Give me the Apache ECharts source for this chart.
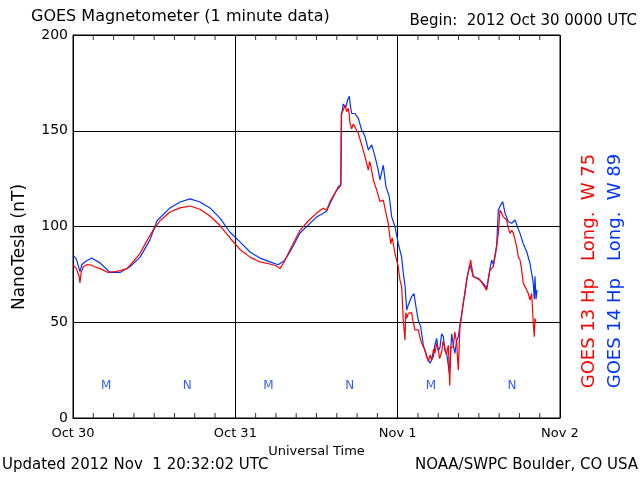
<!DOCTYPE html>
<html>
<head>
<meta charset="utf-8">
<script src="https://cdn.jsdelivr.net/npm/echarts@6/dist/echarts.min.js"></script>
<style>html,body{margin:0;padding:0;background:#fff}#c{width:640px;height:480px}</style>
</head>
<body>
<div id="c"></div>
<script>
// Hours since 2012 Oct 30 00:00 UTC
const xTickLabels = ['Oct 30', 'Oct 31', 'Nov 1', 'Nov 2'];
const yTicks = [0, 50, 100, 150, 200];
const minorTickHours = [3,6,9,12,15,18,21,27,30,33,36,39,42,45,51,54,57,60,63,66,69];

// GOES 13 Hp (red)
const g13Hours = [0,0.5,0.9,1.03,1.2,1.52,2.0,2.51,3.2,3.99,5.17,6.21,7.0,7.98,9.0,9.91,11.0,11.83,12.86,14.34,15.82,17.30,18.78,20.25,21.73,23.21,24.69,26.17,27.64,29.12,30.0,30.60,31.3,32.08,33.56,34.8,36.03,37.0,37.5,38.0,38.99,39.47,39.60,39.67,39.96,40.21,40.45,40.70,40.85,40.95,41.20,41.40,41.69,42.18,42.68,43.17,43.66,43.85,44.01,44.40,44.90,45.39,45.87,46.27,46.61,46.97,47.2,47.60,48.09,48.34,48.59,48.83,49.08,49.20,49.33,49.57,50.07,50.3,50.56,51.05,51.3,51.55,52.04,52.53,52.8,53.03,53.3,53.52,53.75,54.01,54.2,54.51,54.7,55.0,55.2,55.49,55.70,55.85,56.22,56.45,56.73,56.96,57.21,57.45,57.70,58.20,58.59,58.79,59.18,59.68,60.17,60.66,61.16,61.40,61.65,62.14,62.39,62.64,62.88,63.13,63.38,63.62,63.87,64.12,64.36,64.61,64.86,65.09,65.35,65.60,65.84,66.09,66.33,66.57,66.83,67.08,67.31,67.56,67.81,68.05,68.20,68.30,68.45];
const g13Values = [80,78,74,70.5,76,79,80,80,79,78,76,76.5,77,78,82,86,93,98,103,107.6,109.7,110.7,109,105.5,100.5,94,88,84,81.5,80.4,79.5,78,82,87.7,98,103,107,109.5,108.5,113,119,120.8,122,159,160.8,163.5,160,161.7,158,154,151,153.5,152,148.7,142.6,136.5,129.5,134,132,124.3,119,113,113.8,107,101.7,91,94,86,79,72,68.6,51,40.7,55,52,54.7,55,50,46,46,42,39,35.5,29.4,33,30.3,36,33.8,39,35.5,31,34.6,40,36.4,33,38,17,37,37,45,39,25,47.7,53,60,72,79,82.5,73.8,73,72,69.5,66.8,72,77.3,79,84,89.5,96.4,108.6,107,105,105,103.4,99,96.4,98,96.6,93,89.5,84,82.5,77.3,70.3,68.6,66.8,65,61.6,65,49.5,42.5,52,49.5];

// GOES 14 Hp (blue)
const g14Hours = [0,0.5,0.9,1.03,1.3,1.77,2.76,3.99,5.47,6.95,8.43,9.91,11.38,12.42,14.34,15.82,17.30,18.78,20.25,21.73,23.21,24.69,26.17,27.64,29.12,30.31,31.2,32.08,33.56,36.03,37.5,38.0,39.22,39.60,39.70,39.96,40.3,40.6,40.85,41.05,41.20,41.69,41.9,42.18,42.68,43.17,43.66,44.16,44.65,45.1,45.39,45.87,46.27,46.76,47.12,47.60,48.09,48.59,48.83,49.1,49.33,49.57,50.07,50.41,50.71,51.05,51.40,51.79,52.29,52.78,53.27,53.5,53.77,54.01,54.26,54.5,54.75,55.0,55.25,55.64,55.99,56.22,56.47,56.7,56.96,57.32,57.70,57.95,58.29,58.69,59.18,59.92,60.66,61.16,61.65,61.90,62.14,62.64,62.88,63.23,63.53,63.87,64.36,64.86,65.35,65.69,66.09,66.57,67.08,67.56,67.81,68.05,68.2,68.30,68.45,68.60];
const g14Values = [85,83,78,76.4,80,81.6,83.5,81,76,76,79,84,93,103,109.7,112.8,114.4,112.8,109.7,104.4,97,92,86.7,83.5,81.5,80,82,86.7,96.6,105,108,112,120.8,122,158,164,162,166,168,162,159,159,160,156.5,150.4,147,140,142.6,136.5,130,124.3,132,120.8,115.6,105,100,91,84,75.6,68.6,56.4,59,63.4,65,58,51,47.7,38,32,28.6,32,38,41.6,35,37,44,42.5,35,33.8,23.3,44,38,33.8,40,42.5,51,60,65,73.8,80,73.8,73,70.3,67.7,78,82.5,80,90.3,108.6,111.2,113,107,102.5,101.7,103.4,100,96.4,91,86.8,80.8,75.6,70.3,62,74,62,66.8];

// Local midnight (M) and noon (N) markers
const markerHours = [4.9, 16.9, 28.9, 40.9, 52.9, 64.9];
const markerText = ['M', 'N', 'M', 'N', 'M', 'N'];
const markerLevel = 16.7;

const RED = '#ff0000', BLUE = '#0033ff';
const FONT = 'DejaVu Sans';

const pairs = (xs, ys) => xs.map((x, i) => [x, ys[i]]);

const chart = echarts.init(document.getElementById('c'), null, {renderer: 'canvas'});
chart.setOption({
  animation: false,
  backgroundColor: '#fff',
  textStyle: {fontFamily: FONT},
  grid: {left: 73, right: 80, top: 35, bottom: 62, show: true, borderColor: '#000', borderWidth: 1},
  xAxis: {
    type: 'value', min: 0, max: 72, interval: 24, position: 'bottom',
    axisLine: {show: true, onZero: false, lineStyle: {color: '#000', width: 1}},
    axisTick: {show: false},
    splitLine: {show: true, lineStyle: {color: '#000', width: 1}},
    axisLabel: {color: '#000', fontSize: 13, fontFamily: FONT, margin: 9,
      formatter: v => xTickLabels[Math.round(v / 24)]},
    name: 'Universal Time', nameLocation: 'middle', nameGap: 24,
    nameTextStyle: {color: '#000', fontSize: 13, fontFamily: FONT}
  },
  yAxis: {
    type: 'value', min: yTicks[0], max: yTicks[yTicks.length - 1], interval: 50,
    axisLine: {show: true, lineStyle: {color: '#000'}},
    axisTick: {show: false},
    splitLine: {show: true, lineStyle: {color: '#000', width: 1}},
    axisLabel: {color: '#000', fontSize: 14, fontFamily: FONT, margin: 5}
  },
  series: [
    {type: 'line', data: pairs(g14Hours, g14Values), showSymbol: false, symbol: 'none',
     lineStyle: {color: BLUE, width: 1.2}, z: 3},
    {type: 'line', data: pairs(g13Hours, g13Values), showSymbol: false, symbol: 'none',
     lineStyle: {color: RED, width: 1.2}, z: 4},
    {type: 'scatter', z: 5, silent: true,
     data: markerHours.map((h, i) => [h, markerLevel, markerText[i]]),
     symbolSize: 0,
     label: {show: true, position: 'inside', formatter: p => p.value[2],
       color: BLUE, fontSize: 12, fontFamily: FONT}},
    // 3-hour ticks along bottom edge
    {type: 'scatter', z: 6, silent: true, clip: false,
     data: minorTickHours.map(h => [h, yTicks[0]]),
     symbol: 'rect', symbolSize: [1, 5], symbolOffset: [0, -2.5],
     itemStyle: {color: '#000'}},
    // 3-hour ticks along top edge
    {type: 'scatter', z: 6, silent: true, clip: false,
     data: minorTickHours.map(h => [h, yTicks[yTicks.length - 1]]),
     symbol: 'rect', symbolSize: [1, 5], symbolOffset: [0, 2.5],
     itemStyle: {color: '#000'}}
  ],
  graphic: [
    {type: 'text', left: 31, top: 9, style: {text: 'GOES Magnetometer (1 minute data)', fill: '#000', font: '16px "DejaVu Sans"'}},
    {type: 'text', right: 3, top: 14, style: {text: 'Begin:  2012 Oct 30 0000 UTC', fill: '#000', font: '15px "DejaVu Sans"'}},
    {type: 'text', left: 2, top: 458, style: {text: 'Updated 2012 Nov  1 20:32:02 UTC', fill: '#000', font: '15px "DejaVu Sans"'}},
    {type: 'text', right: 2, top: 458, style: {text: 'NOAA/SWPC Boulder, CO USA', fill: '#000', font: '15px "DejaVu Sans"'}},
    {type: 'text', x: 20, y: 247, rotation: Math.PI / 2,
     style: {text: 'NanoTesla (nT)', fill: '#000', font: '17px "DejaVu Sans"', align: 'center', verticalAlign: 'middle'}},
    {type: 'text', x: 589, y: 271, rotation: Math.PI / 2,
     style: {text: 'GOES 13 Hp   Long.  W 75', fill: RED, font: '18px "DejaVu Sans"', align: 'center', verticalAlign: 'middle'}},
    {type: 'text', x: 615, y: 271, rotation: Math.PI / 2,
     style: {text: 'GOES 14 Hp   Long.  W 89', fill: BLUE, font: '18px "DejaVu Sans"', align: 'center', verticalAlign: 'middle'}}
  ]
});
</script>
</body>
</html>
